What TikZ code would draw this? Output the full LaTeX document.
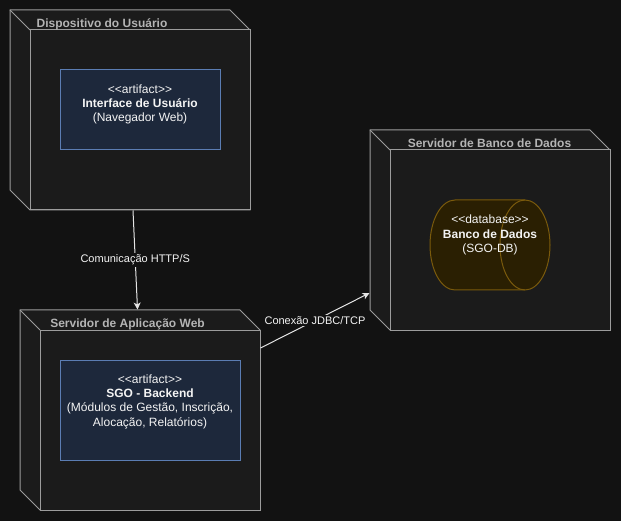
\documentclass[tikz,border=0pt]{standalone}
\usepackage{fontspec}
\setmainfont{Liberation Sans}[Ligatures=TeXOff]
\usetikzlibrary{arrows.meta}

\definecolor{bgcol}{HTML}{121212}
\definecolor{nodefill}{HTML}{1B1B1B}
\definecolor{nodeline}{HTML}{9C9C9C}
\definecolor{titlecol}{HTML}{B4B4B4}
\definecolor{artfill}{HTML}{1D283B}
\definecolor{artline}{HTML}{5B7DB3}
\definecolor{dbfill}{HTML}{2A1F02}
\definecolor{dbline}{HTML}{7A5A0C}
\definecolor{textcol}{HTML}{F4F4F4}
\definecolor{linkcol}{HTML}{E4E4E4}

\begin{document}
\begin{tikzpicture}[x=1pt,y=1pt,
    back/.style={fill=nodefill, draw=nodeline, line width=1pt},
    face/.style={rectangle, fill=nodefill, draw=nodeline, line width=1pt, minimum width=220pt, minimum height=180pt, inner sep=0pt},
    title/.style={text=titlecol, font=\fontsize{12}{14.4}\selectfont\bfseries, anchor=base, inner sep=0pt},
    artifact/.style={rectangle, fill=artfill, draw=artline, line width=1pt, inner sep=0pt},
    dbshape/.style={fill=dbfill, draw=dbline, line width=1pt},
    body/.style={text=textcol, font=\fontsize{12}{14.4}\selectfont, align=center, inner sep=0pt},
    link/.style={draw=linkcol, line width=1pt, -{Stealth[length=7pt,width=7pt,inset=2pt]}},
    lbl/.style={fill=bgcol, text=textcol, font=\fontsize{11}{13.2}\selectfont, inner sep=1.5pt}]

        % the background
        \fill[bgcol] (0,0) rectangle (621,-521);
        \useasboundingbox (0,0) rectangle (621,-521);

        % draw the three nodes (back side first, then the front face)
        \filldraw[back] (10,-10) -- (230,-10) -- (250,-30) -- (250,-210) -- (30,-210) -- (10,-190) -- cycle;
        \draw[back, fill=none] (10,-10) -- (30,-30);
        \node[face] (dev) at (140,-120) {};

        \filldraw[back] (370,-130) -- (590,-130) -- (610,-150) -- (610,-330) -- (390,-330) -- (370,-310) -- cycle;
        \draw[back, fill=none] (370,-130) -- (390,-150);
        \node[face] (dbsrv) at (500,-240) {};

        \filldraw[back] (20,-310) -- (240,-310) -- (260,-330) -- (260,-510) -- (40,-510) -- (20,-490) -- cycle;
        \draw[back, fill=none] (20,-310) -- (40,-330);
        \node[face] (app) at (150,-420) {};

        % the titles
        \node[title] (devtitle) at (102,-27.6) {Dispositivo do Usuário};
        \node[title] (dbtitle) at (489.5,-147.6) {Servidor de Banco de Dados};
        \node[title] (apptitle) at (127.5,-327.6) {Servidor de Aplicação Web};

        % the artifacts and the database inside the nodes
        \node[artifact, minimum width=160pt, minimum height=80pt] (ui) at (140,-110) {};
        \node[body] (uitext) at (140,-104.5) {<<artifact>>\\\textbf{Interface de Usuário}\\(Navegador Web)};

        \node[artifact, minimum width=180pt, minimum height=100pt] (backend) at (150,-410) {};
        \node[body] (backendtext) at (150,-401.7) {<<artifact>>\\\textbf{SGO - Backend}\\(Módulos de Gestão, Inscrição,\\Alocação, Relatórios)};

        \filldraw[dbshape] (455,-200) -- (525,-200) arc[start angle=90, end angle=-90, x radius=25, y radius=45]
            -- (455,-290) arc[start angle=270, end angle=90, x radius=25, y radius=45] -- cycle;
        \draw[dbshape, fill=none] (525,-200) arc[start angle=90, end angle=270, x radius=25, y radius=45];
        \node[body] (dbtext) at (490,-235) {<<database>>\\\textbf{Banco de Dados}\\(SGO-DB)};

        % draw the arrows
        \draw[link] ([xshift=-7pt]dev.south) -- node[lbl] (httplbl) {Comunicação HTTP/S} ([xshift=-12.5pt,yshift=20pt]app.north);
        \draw[link] ([yshift=72pt]app.east) -- node[lbl] (jdbclbl) {Conexão JDBC/TCP} ([xshift=-20pt,yshift=-53pt]dbsrv.west);

    \end{tikzpicture}
\end{document}
